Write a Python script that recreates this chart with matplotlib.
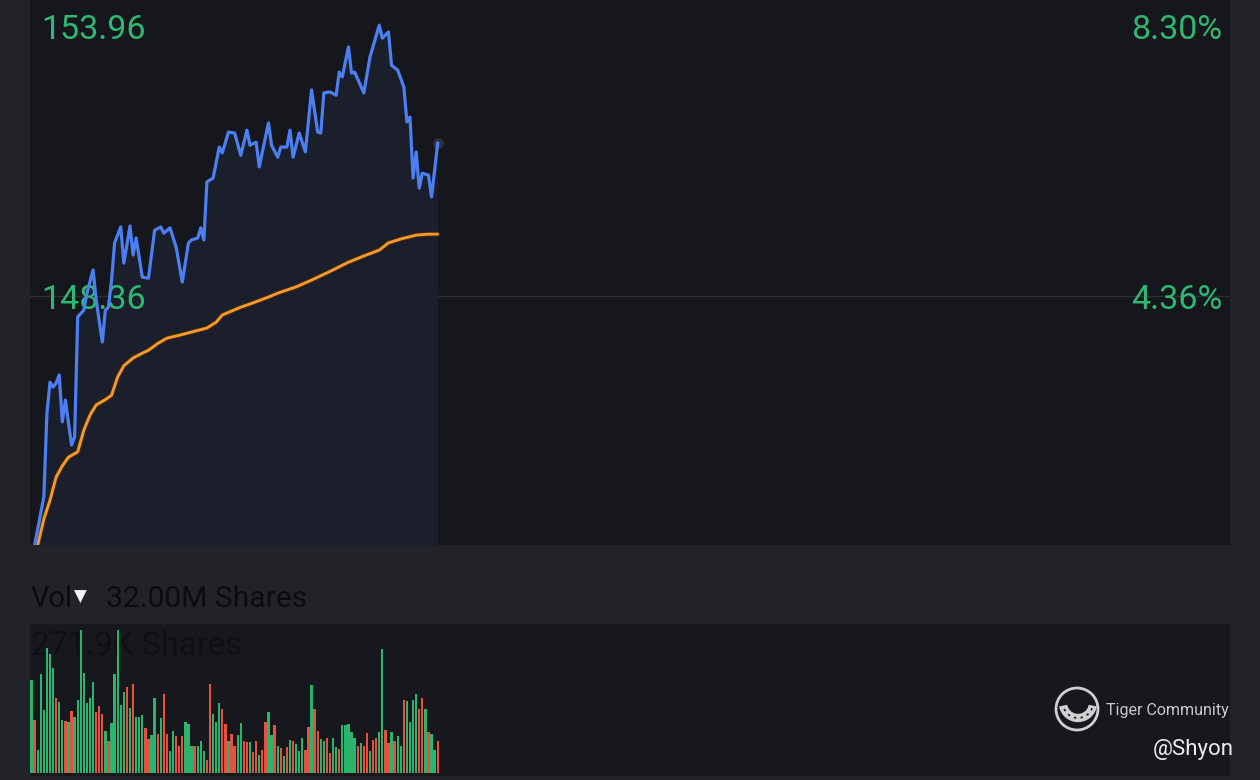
import matplotlib
matplotlib.use("Agg")
import matplotlib.pyplot as plt
from matplotlib.patches import Circle, Arc
import numpy as np

plt.rcParams['font.family'] = ['Roboto', 'DejaVu Sans']

# intraday price (minute index, price)
price_min = [1, 4, 5, 6, 7, 8, 9, 10, 11, 13, 14, 15, 17, 18, 20, 21, 23, 24, 25, 26,
             27, 29, 30, 32, 33, 34, 36, 38, 40, 42, 43, 45, 47, 49, 51, 52, 54, 55, 56, 57,
             59, 61, 62, 64, 66, 68, 70, 71, 73, 74, 77, 78, 80, 81, 83, 84, 85, 87, 89, 91,
             93, 94, 95, 97, 99, 100, 101, 103, 104, 105, 108, 110, 113, 114, 116, 117, 119, 121, 122, 123,
             124, 125, 126, 127, 129, 130, 132]
price = [143.21, 144.21, 145.94, 146.58, 146.48, 146.56, 146.73, 145.76, 146.21, 145.28,
         145.45, 147.93, 148.07, 148.42, 148.90, 148.28, 147.41, 148.07, 148.13, 148.69,
         149.46, 149.79, 149.04, 149.81, 149.21, 149.56, 148.75, 148.73, 149.72, 149.79,
         149.66, 149.77, 149.37, 148.65, 149.46, 149.52, 149.56, 149.77, 149.52, 150.72,
         150.80, 151.44, 151.32, 151.75, 151.73, 151.27, 151.79, 151.48, 151.54, 151.03,
         151.94, 151.48, 151.23, 151.44, 151.44, 151.79, 151.23, 151.73, 151.34, 152.62,
         151.75, 151.73, 152.56, 152.58, 152.51, 152.99, 152.89, 153.51, 152.97, 152.99,
         152.56, 153.30, 153.96, 153.69, 153.82, 153.13, 153.03, 152.68, 151.96, 152.06,
         150.80, 151.34, 150.59, 150.90, 150.86, 150.41, 151.52]

# average price line
avg_min = [2, 4, 6, 8, 10, 12, 15, 17, 19, 21, 24, 26, 28, 30, 33, 36, 38, 41, 44, 48,
           51, 57, 60, 62, 65, 68, 72, 77, 80, 86, 91, 97, 103, 108, 113, 116, 120, 125, 129, 132]
avg_price = [143.21, 143.75, 144.14, 144.62, 144.85, 145.03, 145.14, 145.59, 145.90, 146.11,
             146.22, 146.31, 146.69, 146.92, 147.08, 147.18, 147.24, 147.38, 147.49, 147.55,
             147.60, 147.70, 147.82, 147.97, 148.05, 148.13, 148.22, 148.34, 148.42, 148.55,
             148.69, 148.87, 149.06, 149.19, 149.31, 149.46, 149.54, 149.62, 149.64, 149.64]

# volume per minute (K shares), 'g' up / 'r' down
volume = [170, 97, 43, 181, 116, 229, 217, 192, 138, 130, 97, 95, 93, 114, 102, 134, 261, 182, 128, 138,
          167, 111, 123, 108, 77, 59, 91, 181, 261, 125, 148, 157, 119, 162, 103, 103, 106, 82, 63, 70,
          138, 71, 100, 144, 71, 41, 77, 68, 49, 67, 93, 89, 49, 49, 49, 58, 41, 24, 162, 108,
          93, 128, 117, 89, 59, 71, 49, 70, 91, 59, 57, 57, 38, 58, 33, 43, 93, 111, 70, 87,
          50, 46, 32, 47, 61, 58, 53, 40, 64, 43, 85, 160, 117, 77, 63, 58, 64, 36, 65, 48,
          44, 87, 88, 89, 76, 65, 50, 55, 50, 73, 41, 61, 64, 75, 227, 79, 55, 75, 58, 67,
          50, 134, 131, 93, 134, 144, 117, 137, 117, 75, 71, 43, 58]
vol_dir = list("grggggggrggrgrgggggg"
               "grrrgrgggggrgrgggrrg"
               "grgrrggrrrgggrgggrrg"
               "ggrrgrrggrrgrrgrrggr"
               "grgrgrgggrrgrrggrrgg"
               "rgggggrgrrgrrggrrgrg"
               "grggggrrgrggrrrgrrgr"
               "gggrrgggrgrrgg")

prev_close = 148.36
high_label = "153.96"
mid_label = "148.36"
high_pct = "8.30%"
mid_pct = "4.36%"
total_vol = "32.00M Shares"
max_vol = "271.9K Shares"
max_vol_k = 271.9
session_minutes = 390

W, H = 1260, 780
fig = plt.figure(figsize=(12.6, 7.8), dpi=100)
fig.patch.set_facecolor('#222329')

green = '#2bb56c'
red = '#e8513f'
blue = '#4b7ff2'
orange = '#f29a2e'

# price panel
ax = fig.add_axes([30 / W, (H - 545) / H, 1200 / W, 545 / H])
ax.set_facecolor('#16171d')
ax.set_xlim(-0.5, session_minutes - 0.5)
ax.set_ylim(143.215, 154.48)
ax.axhline(prev_close, color='#2d2f36', lw=1.0, zorder=1)
ax.fill_between(price_min, price, 143.215, color='#1b1f2b', lw=0, zorder=1)
ax.plot(avg_min, avg_price, color='#3a2510', lw=3.8, solid_capstyle='round',
        solid_joinstyle='round', zorder=3)
ax.plot(avg_min, avg_price, color=orange, lw=2.1, solid_capstyle='round',
        solid_joinstyle='round', zorder=3)
ax.plot(price_min, price, color=blue, lw=2.3, solid_joinstyle='round', zorder=4)
ax.scatter([price_min[-1]], [price[-1]], s=60, color='#3a3d45', alpha=0.7, zorder=3, lw=0)
for s in ax.spines.values():
    s.set_visible(False)
ax.set_xticks([])
ax.set_yticks([])

lab = dict(color='#2fb872', fontsize=24.5, zorder=2)
ax.text(0.0095, 1 - 30 / 545, high_label, transform=ax.transAxes, ha='left', va='center', **lab)
ax.text(0.0095, 1 - 300 / 545, mid_label, transform=ax.transAxes, ha='left', va='center', **lab)
ax.text(0.9935, 1 - 30 / 545, high_pct, transform=ax.transAxes, ha='right', va='center', **lab)
ax.text(0.9935, 1 - 300 / 545, mid_pct, transform=ax.transAxes, ha='right', va='center', **lab)

# volume header
fig.text(31 / W, 1 - 599 / H, "Vol", color='#0c0c0e', fontsize=21, ha='left', va='center')
fig.text(74 / W, 1 - 597 / H, "\u25bc", color='#f2f2f2', fontsize=12, ha='left', va='center',
         family='DejaVu Sans')
fig.text(106 / W, 1 - 599 / H, total_vol, color='#0c0c0e', fontsize=21.6, ha='left', va='center')

# volume panel
axv = fig.add_axes([30 / W, (H - 776) / H, 1200 / W, (776 - 624) / H])
axv.set_facecolor('#17181e')
axv.set_xlim(-0.5, session_minutes - 0.5)
axv.set_ylim(-5, max_vol_k)
vcols = [green if d == 'g' else red for d in vol_dir]
axv.bar(np.arange(len(volume)), volume, width=0.76, color=vcols, lw=0, zorder=2)
for s in axv.spines.values():
    s.set_visible(False)
axv.set_xticks([])
axv.set_yticks([])
axv.text(0.0008, 1 - 22 / 152, max_vol, transform=axv.transAxes, color='#0f1013',
         fontsize=23.5, ha='left', va='center', zorder=1)

# watermark
wm = fig.add_axes([0, 0, 1, 1], facecolor='none')
wm.set_xlim(0, W)
wm.set_ylim(H, 0)
wm.axis('off')
wm.add_patch(Circle((1077, 709), 21, fill=False, ec='#cfcfcf', lw=2))
wm.add_patch(Arc((1078, 703), 30, 30, theta1=10, theta2=170, ec='#cfcfcf', lw=6))
wm.add_patch(Arc((1078, 703), 30, 30, theta1=20, theta2=160, ec='#1a1b21', lw=1.2,
                 ls=(0, (1.5, 2.5))))
wm.text(1106, 710, "Tiger Community", color='#c9c9c9', fontsize=11.5, ha='left', va='center')
wm.text(1234, 750, "@Shyon", color='#ececec', fontsize=16, ha='right', va='center')

fig.savefig('out.png', dpi=100, facecolor=fig.get_facecolor())
